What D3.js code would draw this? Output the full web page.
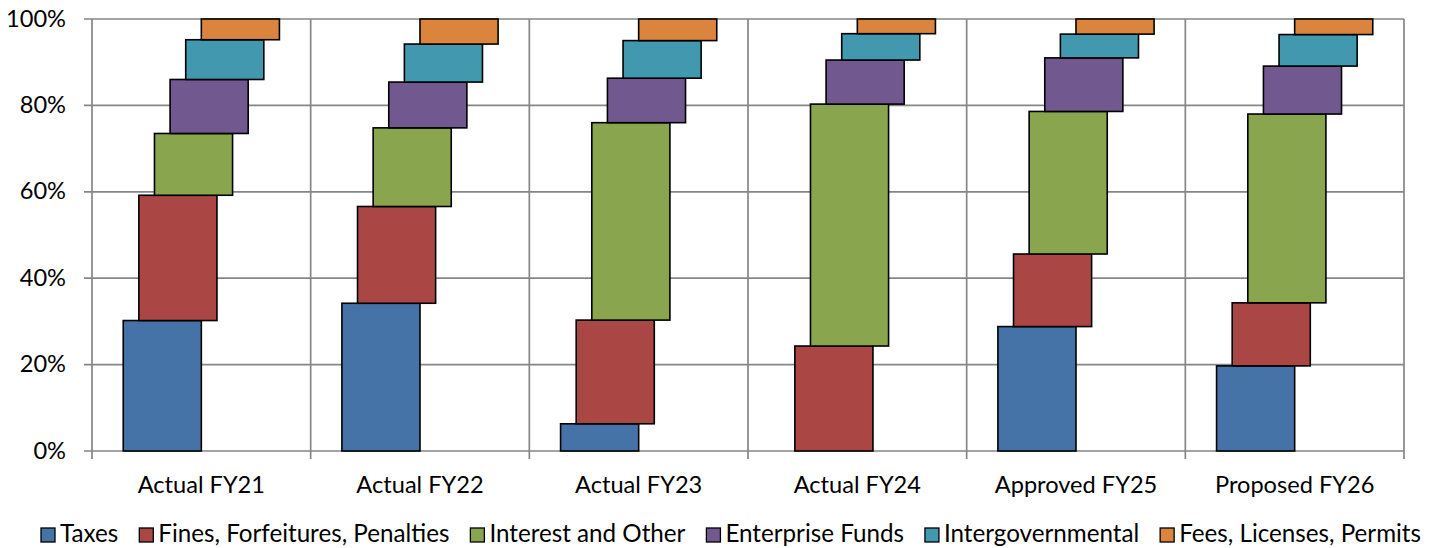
<!DOCTYPE html>
<html>
<head>
<meta charset="utf-8">
<script src="https://cdn.jsdelivr.net/npm/d3@7/dist/d3.min.js"></script>
<style>
  html, body { margin: 0; padding: 0; background: #fff; }
  svg text { font-family: Lato, "Noto Sans", sans-serif; fill: #000; }
</style>
</head>
<body>
<svg id="chart" width="1437" height="548"></svg>
<script>
// ---- data ----
const categories = ["Actual FY21", "Actual FY22", "Actual FY23", "Actual FY24", "Approved FY25", "Proposed FY26"];
const seriesNames = ["Taxes", "Fines, Forfeitures, Penalties", "Interest and Other", "Enterprise Funds", "Intergovernmental", "Fees, Licenses, Permits"];
const taxes        = [30.2, 34.2,  6.3,  0.0, 28.8, 19.7];
const fines        = [29.0, 22.4, 24.0, 24.3, 16.8, 14.6];
const interest     = [14.3, 18.2, 45.7, 56.0, 33.0, 43.7];
const enterprise   = [12.5, 10.6, 10.3, 10.2, 12.4, 11.1];
const intergov     = [ 9.2,  8.8,  8.7,  6.1,  5.5,  7.3];
const fees         = [ 4.8,  5.8,  5.0,  3.4,  3.5,  3.6];
const yTicks = [0, 20, 40, 60, 80, 100];
const colors = ["#4572A7", "#AA4643", "#89A54E", "#71588F", "#4198AF", "#DB843D"];

const seriesValues = [taxes, fines, interest, enterprise, intergov, fees];
const rows = categories.map((c, i) => {
  const r = { category: c };
  seriesNames.forEach((s, j) => { r[s] = seriesValues[j][i]; });
  return r;
});

// ---- layout ----
const svg = d3.select("#chart");
const pLeft = 92, pRight = 1404, pTop = 19, pBottom = 451;
const FONT = 23.6;

const x = d3.scaleBand().domain(categories).range([pLeft, pRight]).padding(0);
const bw = x.bandwidth();
const inner = d3.scaleLinear().domain([0, 14]).range([0, bw]);
const y = d3.scaleLinear().domain([0, 100]).range([pBottom, pTop]);
const color = d3.scaleOrdinal().domain(seriesNames).range(colors);

const stacked = d3.stack().keys(seriesNames)(rows);

// gridlines
const grid = svg.append("g");
grid.selectAll("line.h").data(yTicks).join("line")
  .attr("class", "h")
  .attr("x1", pLeft - 8).attr("x2", pRight)
  .attr("y1", d => y(d)).attr("y2", d => y(d))
  .attr("stroke", "#868686").attr("stroke-width", 1.7);
const vx = categories.map(c => x(c)).concat([pRight]);
grid.selectAll("line.v").data(vx).join("line")
  .attr("class", "v")
  .attr("x1", d => d).attr("x2", d => d)
  .attr("y1", pTop).attr("y2", pBottom + 8)
  .attr("stroke", "#868686").attr("stroke-width", 1.7);

// y labels
svg.append("g").selectAll("text").data(yTicks).join("text")
  .attr("x", 66).attr("y", d => y(d) + 7.5)
  .attr("text-anchor", "end").attr("font-size", FONT)
  .text(d => d + "%");

// bars
const barsG = svg.append("g");
stacked.forEach((layer, si) => {
  barsG.append("g").selectAll("rect")
    .data(layer.filter(d => d[1] - d[0] > 0))
    .join("rect")
    .attr("x", d => x(d.data.category) + inner(2 + si))
    .attr("width", inner(5) - inner(0))
    .attr("y", d => y(d[1]))
    .attr("height", d => y(d[0]) - y(d[1]))
    .attr("fill", color(layer.key))
    .attr("stroke", "#000").attr("stroke-width", 1.6);
});

// x labels
svg.append("g").selectAll("text").data(categories).join("text")
  .attr("x", d => x(d) + bw / 2).attr("y", 493)
  .attr("text-anchor", "middle").attr("font-size", FONT)
  .text(d => d);

// legend: spread between x=41 and x=1421
const leg = svg.append("g");
const sq = 14, gapSq = 5;
const legLeft = 41, legRight = 1421;
const groups = [], widths = [];
seriesNames.forEach(name => {
  const g = leg.append("g");
  g.append("rect").attr("x", 0).attr("y", -sq).attr("width", sq).attr("height", sq)
    .attr("fill", color(name)).attr("stroke", "#000").attr("stroke-width", 1.3);
  const t = g.append("text").attr("x", sq + gapSq).attr("y", 0).attr("font-size", 24.2).text(name);
  groups.push(g);
  widths.push(sq + gapSq + t.node().getComputedTextLength());
});
const gapItem = ((legRight - legLeft) - d3.sum(widths)) / (widths.length - 1);
let cx = legLeft;
groups.forEach((g, i) => {
  g.attr("transform", `translate(${cx},542)`);
  cx += widths[i] + gapItem;
});
</script>
</body>
</html>
